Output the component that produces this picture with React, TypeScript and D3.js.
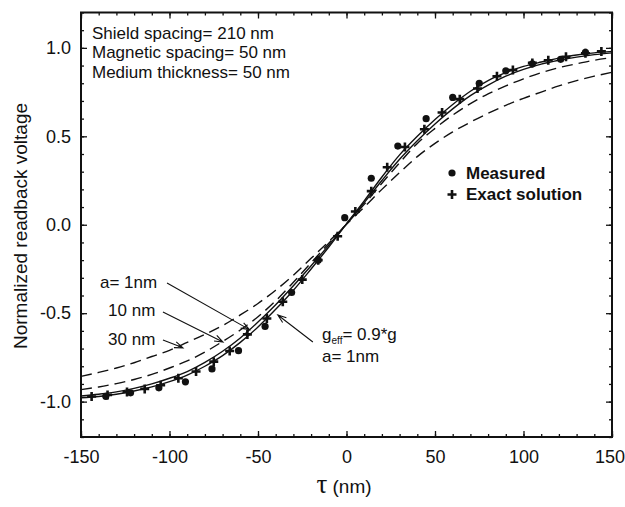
import { useEffect, useRef } from 'react';
import * as d3 from 'd3';

// calculated curves, sampled every 10 nm
const tau = [-150, -140, -130, -120, -110, -100, -90, -80, -70, -60, -50, -40, -30, -20, -10, 0,
  10, 20, 30, 40, 50, 60, 70, 80, 90, 100, 110, 120, 130, 140, 150];
const a1nm = [-0.968, -0.958, -0.945, -0.925, -0.9, -0.868, -0.83, -0.778, -0.715, -0.64, -0.55, -0.452, -0.345, -0.232, -0.115, 0.005,
  0.125, 0.25, 0.37, 0.475, 0.57, 0.655, 0.73, 0.79, 0.84, 0.878, 0.908, 0.93, 0.948, 0.962, 0.972];
const gEff = [-0.978, -0.971, -0.958, -0.94, -0.917, -0.887, -0.85, -0.8, -0.74, -0.665, -0.578, -0.478, -0.37, -0.25, -0.126, 0.005,
  0.135, 0.27, 0.395, 0.5, 0.595, 0.68, 0.755, 0.815, 0.86, 0.895, 0.92, 0.942, 0.96, 0.972, 0.98];
const a10nm = [-0.932, -0.917, -0.898, -0.875, -0.846, -0.81, -0.77, -0.72, -0.66, -0.595, -0.52, -0.43, -0.325, -0.215, -0.105, 0.005,
  0.115, 0.235, 0.35, 0.46, 0.545, 0.62, 0.685, 0.74, 0.785, 0.825, 0.86, 0.888, 0.91, 0.93, 0.945];
const a30nm = [-0.857, -0.835, -0.81, -0.78, -0.745, -0.71, -0.665, -0.62, -0.57, -0.51, -0.445, -0.37, -0.285, -0.19, -0.095, 0.003,
  0.1, 0.2, 0.295, 0.385, 0.46, 0.525, 0.58, 0.63, 0.675, 0.715, 0.75, 0.785, 0.815, 0.84, 0.862];

// measured points (dots)
const measuredX = [-136, -122, -106, -91, -76, -61, -46, -31, -16, -1, 14, 29, 45, 60, 75, 90, 105, 121, 135];
const measuredY = [-0.97, -0.95, -0.922, -0.888, -0.815, -0.712, -0.575, -0.383, -0.2, 0.04, 0.263, 0.445, 0.6, 0.72, 0.8, 0.87, 0.91, 0.935, 0.975];

// exact solution (crosses)
const exactX = [-144, -135, -124, -114, -105, -95, -85, -75, -66, -56, -45, -36, -25, -16, -5,
  5, 14, 23, 33, 44, 54, 64, 74, 85, 94, 105, 114, 124, 135, 144];
const exactY = [-0.971, -0.962, -0.946, -0.928, -0.907, -0.868, -0.83, -0.774, -0.714, -0.62, -0.53, -0.435, -0.31, -0.2, -0.065,
  0.075, 0.19, 0.325, 0.44, 0.54, 0.635, 0.71, 0.77, 0.84, 0.875, 0.915, 0.93, 0.95, 0.97, 0.98];

const xTicks = [-150, -100, -50, 0, 50, 100, 150];
const yTicks = [-1.0, -0.5, 0.0, 0.5, 1.0];

const infoLines = ['Shield spacing= 210 nm', 'Magnetic spacing= 50 nm', 'Medium thickness= 50 nm'];

const FONT = '"Liberation Sans", Arial, sans-serif';
const INK = '#111';

function App() {
  const svgRef = useRef<SVGSVGElement>(null);

  useEffect(() => {
    const svg = d3.select(svgRef.current);
    svg.selectAll('*').remove();

    const x = d3.scaleLinear().domain([-150, 150]).range([81, 612]);
    const y = d3.scaleLinear().domain([-1.2, 1.2]).range([437, 12.5]);

    const styleAxis = (g: any) => {
      g.select('.domain').remove();
      g.selectAll('line').attr('stroke', INK).attr('stroke-width', 1.3);
      g.attr('font-family', FONT).attr('font-size', 18).selectAll('text').attr('fill', INK);
    };

    const xMinor = d3.range(-150, 151, 10);
    const yMinor = d3.range(-12, 13).map((d) => d / 10);

    // minor ticks, all four sides
    svg.append('g').attr('transform', `translate(0,${y(-1.2)})`)
      .call(d3.axisBottom(x).tickValues(xMinor).tickSize(-3).tickSizeOuter(0).tickFormat(() => '')).call(styleAxis);
    svg.append('g').attr('transform', `translate(0,${y(1.2)})`)
      .call(d3.axisTop(x).tickValues(xMinor).tickSize(-3).tickSizeOuter(0).tickFormat(() => '')).call(styleAxis);
    svg.append('g').attr('transform', `translate(${x(-150)},0)`)
      .call(d3.axisLeft(y).tickValues(yMinor).tickSize(-3).tickSizeOuter(0).tickFormat(() => '')).call(styleAxis);
    svg.append('g').attr('transform', `translate(${x(150)},0)`)
      .call(d3.axisRight(y).tickValues(yMinor).tickSize(-3).tickSizeOuter(0).tickFormat(() => '')).call(styleAxis);

    // major ticks
    const bottom = svg.append('g').attr('transform', `translate(0,${y(-1.2)})`)
      .call(d3.axisBottom(x).tickValues(xTicks).tickSize(-6).tickSizeOuter(0).tickPadding(13)
        .tickFormat((d: any) => String(d))).call(styleAxis);
    // last label sits flush against the right edge, as in the original
    bottom.selectAll('.tick text').filter((d: any) => d === 150)
      .attr('text-anchor', 'end').attr('x', 12.5);
    svg.append('g').attr('transform', `translate(0,${y(1.2)})`)
      .call(d3.axisTop(x).tickValues(xTicks).tickSize(-6).tickSizeOuter(0).tickFormat(() => '')).call(styleAxis);
    svg.append('g').attr('transform', `translate(${x(-150)},0)`)
      .call(d3.axisLeft(y).tickValues(yTicks).tickSize(-6).tickSizeOuter(0).tickPadding(10)
        .tickFormat((d: any) => d.toFixed(1))).call(styleAxis);
    svg.append('g').attr('transform', `translate(${x(150)},0)`)
      .call(d3.axisRight(y).tickValues(yTicks).tickSize(-6).tickSizeOuter(0).tickFormat(() => '')).call(styleAxis);

    // frame
    svg.append('rect')
      .attr('x', x(-150)).attr('y', y(1.2))
      .attr('width', x(150) - x(-150)).attr('height', y(-1.2) - y(1.2))
      .attr('fill', 'none').attr('stroke', INK).attr('stroke-width', 2);

    // curves
    const line = d3.line<number>()
      .x((_, i) => x(tau[i]))
      .y((d) => y(d))
      .curve(d3.curveMonotoneX);

    const curves = [
      { values: a30nm, dash: '11,6' },
      { values: a10nm, dash: '11,6' },
      { values: a1nm, dash: null },
      { values: gEff, dash: null },
    ];
    svg.append('g').selectAll('path')
      .data(curves)
      .join('path')
      .attr('d', (c) => line(c.values))
      .attr('fill', 'none')
      .attr('stroke', INK)
      .attr('stroke-width', 1.4)
      .attr('stroke-dasharray', (c) => c.dash);

    // measured dots
    svg.append('g').selectAll('circle')
      .data(measuredX)
      .join('circle')
      .attr('cx', (d) => x(d))
      .attr('cy', (_, i) => y(measuredY[i]))
      .attr('r', 3.6)
      .attr('fill', INK);

    // exact solution crosses
    const cross = 'M-4.5,0H4.5M0,-4.5V4.5';
    svg.append('g').selectAll('path')
      .data(exactX)
      .join('path')
      .attr('transform', (d, i) => `translate(${x(d)},${y(exactY[i])})`)
      .attr('d', cross)
      .attr('stroke', INK)
      .attr('stroke-width', 2.6);

    // info text
    svg.append('g').selectAll('text')
      .data(infoLines)
      .join('text')
      .attr('x', 92)
      .attr('y', (_, i) => 39 + i * 19.3)
      .attr('font-family', FONT)
      .attr('font-size', 17)
      .attr('fill', INK)
      .text((d) => d);

    // legend
    const legend = svg.append('g').attr('font-family', FONT).attr('font-size', 17).attr('font-weight', 'bold').attr('fill', INK);
    legend.append('circle').attr('cx', 452).attr('cy', 173).attr('r', 3.6).attr('fill', INK);
    legend.append('text').attr('x', 466).attr('y', 178.5).text('Measured');
    legend.append('path').attr('transform', 'translate(452,194.5)').attr('d', cross).attr('stroke', INK).attr('stroke-width', 2.6);
    legend.append('text').attr('x', 466).attr('y', 200).text('Exact solution');

    // annotations (data coordinates)
    const labels = [
      { text: 'a= 1nm', tx: -139.3, ty: -0.358 },
      { text: '10 nm', tx: -134.7, ty: -0.516 },
      { text: '30 nm', tx: -134.7, ty: -0.68 },
    ];
    svg.append('g').selectAll('text')
      .data(labels)
      .join('text')
      .attr('x', (d) => x(d.tx))
      .attr('y', (d) => y(d.ty))
      .attr('font-family', FONT)
      .attr('font-size', 17)
      .attr('fill', INK)
      .text((d) => d.text);

    const arrows = [
      { x0: -101.4, y0: -0.329, x1: -54.8, y1: -0.593 },
      { x0: -103.7, y0: -0.493, x1: -69.8, y1: -0.663 },
      { x0: -103.7, y0: -0.651, x1: -92.4, y1: -0.696 },
      { x0: -19, y0: -0.663, x1: -38.8, y1: -0.51 },
    ];
    const arrowPath = (a: any) => {
      const px0 = x(a.x0), py0 = y(a.y0), px1 = x(a.x1), py1 = y(a.y1);
      const ang = Math.atan2(py1 - py0, px1 - px0);
      const L = 9, spread = 0.35;
      const h1x = px1 - L * Math.cos(ang - spread), h1y = py1 - L * Math.sin(ang - spread);
      const h2x = px1 - L * Math.cos(ang + spread), h2y = py1 - L * Math.sin(ang + spread);
      return `M${px0},${py0}L${px1},${py1}M${h1x},${h1y}L${px1},${py1}L${h2x},${h2y}`;
    };
    svg.append('g').selectAll('path')
      .data(arrows)
      .join('path')
      .attr('d', arrowPath)
      .attr('fill', 'none')
      .attr('stroke', INK)
      .attr('stroke-width', 1.1);

    const gText = svg.append('text')
      .attr('x', 322).attr('y', 340)
      .attr('font-family', FONT).attr('font-size', 17).attr('fill', INK);
    gText.append('tspan').text('g');
    gText.append('tspan').attr('font-size', 10).attr('dy', 4).text('eff');
    gText.append('tspan').attr('dy', -4).text('= 0.9*g');
    svg.append('text')
      .attr('x', 322).attr('y', 362)
      .attr('font-family', FONT).attr('font-size', 17).attr('fill', INK)
      .text('a= 1nm');

    // axis titles
    svg.append('text')
      .attr('transform', 'translate(27,226) rotate(-90)')
      .attr('text-anchor', 'middle')
      .attr('font-family', FONT)
      .attr('font-size', 19)
      .attr('fill', INK)
      .text('Normalized readback voltage');

    const xt = svg.append('text')
      .attr('x', 344).attr('y', 493)
      .attr('text-anchor', 'middle')
      .attr('fill', INK);
    xt.append('tspan').attr('font-family', '"Liberation Serif", "Times New Roman", serif').attr('font-size', 27).text('τ');
    xt.append('tspan').attr('font-family', FONT).attr('font-size', 19).text(' (nm)');
  }, []);

  return (
    <svg
      ref={svgRef}
      width={625}
      height={507}
      style={{ position: 'absolute', left: 0, top: 0, background: '#fff' }}
    ></svg>
  );
}

export default App;
